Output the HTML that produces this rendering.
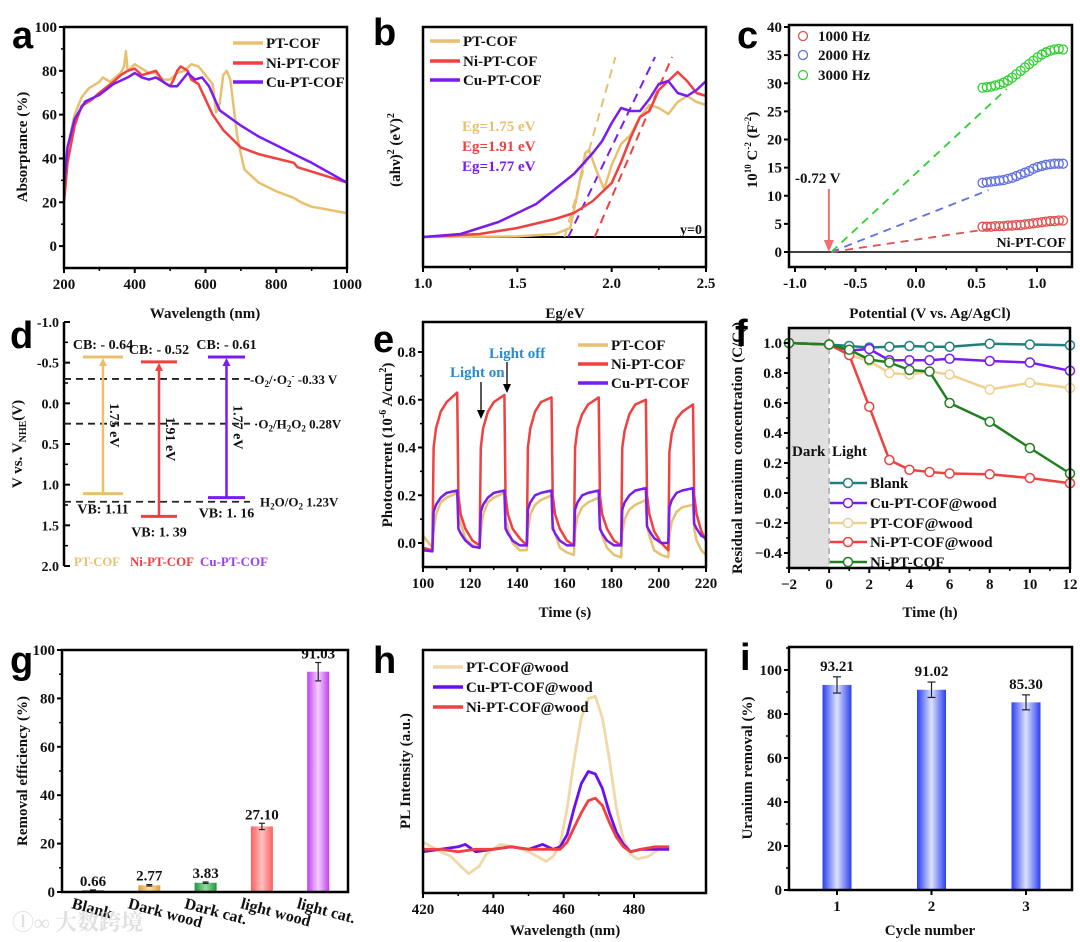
<!DOCTYPE html>
<html><head><meta charset="utf-8">
<style>
html,body{margin:0;padding:0;background:#fff;}
svg{display:block;}
text{font-family:"Liberation Serif","Noto Serif CJK SC",serif;font-weight:bold;}
.pl{font-family:"Liberation Sans",sans-serif;font-weight:bold;font-size:38px;}
</style></head>
<body>
<svg id="fig" width="1080" height="942" viewBox="0 0 1080 942" xmlns="http://www.w3.org/2000/svg">
<defs>
<linearGradient id="gPurple" x1="0" x2="1" y1="0" y2="0"><stop offset="0" stop-color="#c040f0"/><stop offset="0.5" stop-color="#f4d0ff"/><stop offset="1" stop-color="#c040f0"/></linearGradient>
<linearGradient id="gRed" x1="0" x2="1" y1="0" y2="0"><stop offset="0" stop-color="#ff6060"/><stop offset="0.5" stop-color="#ffc0c0"/><stop offset="1" stop-color="#ff6060"/></linearGradient>
<linearGradient id="gGreen" x1="0" x2="1" y1="0" y2="0"><stop offset="0" stop-color="#2a9040"/><stop offset="0.5" stop-color="#90e0a0"/><stop offset="1" stop-color="#2a9040"/></linearGradient>
<linearGradient id="gOrange" x1="0" x2="1" y1="0" y2="0"><stop offset="0" stop-color="#d8a040"/><stop offset="0.5" stop-color="#ffe0a0"/><stop offset="1" stop-color="#d8a040"/></linearGradient>
<linearGradient id="gBlue" x1="0" x2="1" y1="0" y2="0"><stop offset="0" stop-color="#2a40f0"/><stop offset="0.5" stop-color="#dde2ff"/><stop offset="1" stop-color="#2a40f0"/></linearGradient>
</defs>
</svg>
<script>
// ---------- panel a data ----------
const aPT_x=[200,210,230,250,270,300,310,330,360,370,375,380,400,420,440,460,480,500,520,540,560,580,600,620,630,640,650,660,670,690,700,710,750,800,850,870,900,950,1000];
const aPT_y=[22,45,60,68,72,75,77,75,79,82,89,80,83,81,79,79,76,76,79,80,83,82,78,74,61,65,78,80,76,50,42,35,29,25,22,20,18,16.5,15];
const aNi_x=[200,210,230,250,280,300,340,360,380,400,420,440,460,480,500,510,520,530,550,560,580,600,620,650,700,750,800,850,860,900,1000];
const aNi_y=[20,38,55,64,67,70,75,78,80,81,78,79,80,75,73,76,80,82,80,76,74,67,60,53,45,42,40,38,36,34,29];
const aCu_x=[200,210,230,260,300,340,380,400,420,440,460,480,500,520,540,550,570,590,610,640,700,750,800,850,900,1000];
const aCu_y=[28,45,58,66,69,74,77,79,77,76,77,75,73,73,77,79,76,77,73,62,55,50,46,42,38,29];
const aYTicks=[0,20,40,60,80,100];
const aXTicks=[200,400,600,800,1000];
// ---------- panel b data ----------
const bPT_x=[1.0,1.5,1.7,1.78,1.82,1.86,1.88,1.92,1.96,2.0,2.05,2.1,2.15,2.2,2.25,2.3,2.35,2.4,2.45,2.5];
const bPT_y=[0,0.02,0.1,0.3,1.5,2.8,2.9,2.2,1.6,2.4,3.1,3.4,4.0,4.4,4.3,4.1,4.5,4.7,4.5,4.4];
const bNi_x=[1.0,1.3,1.5,1.7,1.8,1.9,2.0,2.05,2.1,2.15,2.2,2.25,2.3,2.35,2.4,2.45,2.5];
const bNi_y=[0,0.1,0.3,0.6,0.8,1.2,1.8,2.5,3.3,4.0,4.2,4.9,5.2,5.5,5.2,4.8,4.7];
const bCu_x=[1.0,1.2,1.4,1.6,1.7,1.8,1.9,1.95,2.0,2.05,2.1,2.15,2.2,2.25,2.3,2.35,2.4,2.45,2.5];
const bCu_y=[0,0.1,0.5,1.1,1.6,2.1,2.8,3.2,3.8,4.3,4.2,4.2,4.6,5.1,5.2,4.8,4.7,4.9,5.2];
const bEg=[1.75,1.91,1.77];
const bFitEnd=[2.02,2.32,2.23];
const bXTicks=[1.0,1.5,2.0,2.5];
// ---------- panel c data ----------
const cV=[0.55,0.585,0.62,0.655,0.69,0.725,0.76,0.795,0.83,0.865,0.90,0.935,0.97,1.005,1.04,1.075,1.11,1.145,1.18,1.215];
const c1000=[4.5,4.5,4.5,4.6,4.6,4.6,4.7,4.7,4.8,4.8,4.9,5.0,5.1,5.2,5.3,5.4,5.5,5.5,5.6,5.6];
const c2000=[12.3,12.4,12.5,12.6,12.7,12.8,13.0,13.2,13.5,13.8,14.1,14.4,14.8,15.1,15.3,15.5,15.6,15.7,15.7,15.7];
const c3000=[29.2,29.3,29.4,29.6,29.8,30.1,30.5,31.0,31.6,32.2,32.8,33.4,34.0,34.6,35.1,35.5,35.8,36.0,36.1,36.0];
const cFitX=[0.70,0.60,0.75];
const cFitY=[4.4,11.0,29.0];
const cYTicks=[0,5,10,15,20,25,30,35,40];
const cXTicks=[-1.0,-0.5,0.0,0.5,1.0];
// ---------- panel d data ----------
const dNames=["PT-COF","Ni-PT-COF","Cu-PT-COF"];
const dCB=[-0.57,-0.51,-0.57];
const dCBlabel=["CB: - 0.64","CB: - 0.52","CB: - 0.61"];
const dVB=[1.11,1.39,1.16];
const dVBlabel=["VB: 1.11","VB: 1. 39","VB: 1. 16"];
const dGap=["1.75 eV","1.91 eV","1.77 eV"];
const dRef=[-0.30,0.25,1.21];
const dYTicks=[-1.0,-0.5,0.0,0.5,1.0,1.5,2.0];
// ---------- panel e data ----------
const eT=[100,104,104.5,105.5,107.5,110,114.5,115,116,118,121,124,124.5,125.5,127.5,130,134.5,135,136,138,141,144,144.5,145.5,147.5,150,154.5,155,156,158,161,164,164.5,165.5,167.5,170,174.5,175,176,178,181,184,184.5,185.5,187.5,190,194.5,195,196,198,201,204,204.5,205.5,207.5,210,214.5,215,216,218,220];
const eNi=[-0.02,-0.03,0.40,0.48,0.55,0.59,0.63,0.20,0.12,0.06,0.01,-0.01,0.40,0.48,0.55,0.59,0.62,0.20,0.12,0.06,0.02,-0.01,0.40,0.48,0.55,0.59,0.61,0.20,0.12,0.06,0.01,-0.01,0.40,0.48,0.54,0.58,0.61,0.20,0.12,0.06,0.01,-0.01,0.40,0.47,0.54,0.58,0.60,0.20,0.12,0.05,0.0,-0.03,0.38,0.46,0.52,0.55,0.58,0.20,0.12,0.05,0.01];
const eCu=[-0.03,-0.035,0.13,0.16,0.19,0.21,0.22,0.06,0.04,0.01,-0.015,-0.02,0.13,0.16,0.19,0.21,0.22,0.06,0.04,0.01,-0.01,-0.01,0.14,0.17,0.20,0.21,0.22,0.06,0.04,0.01,-0.01,-0.01,0.14,0.17,0.20,0.21,0.22,0.06,0.04,0.01,-0.01,-0.01,0.14,0.17,0.20,0.22,0.23,0.07,0.05,0.02,0.0,0.0,0.15,0.18,0.21,0.22,0.23,0.08,0.06,0.03,0.02];
const ePT=[0.03,-0.02,0.05,0.12,0.17,0.19,0.21,0.12,0.08,0.02,-0.01,-0.02,0.05,0.12,0.17,0.19,0.21,0.10,0.06,0.0,-0.03,-0.03,0.05,0.12,0.16,0.18,0.20,0.08,0.04,-0.02,-0.04,-0.05,0.05,0.11,0.15,0.17,0.19,0.08,0.03,-0.02,-0.05,-0.06,0.04,0.10,0.14,0.16,0.18,0.07,0.03,-0.03,-0.05,-0.06,0.03,0.09,0.13,0.15,0.16,0.06,0.01,-0.03,-0.05];
const eYTicks=[0.0,0.2,0.4,0.6,0.8];
const eXTicks=[100,120,140,160,180,200,220];
// ---------- panel f data ----------
const fT=[-2,0,1,2,3,4,5,6,8,10,12];
const fBlank=[1.0,0.99,0.98,0.97,0.975,0.98,0.975,0.975,0.995,0.99,0.985];
const fCu=[1.0,0.99,0.95,0.96,0.885,0.885,0.885,0.895,0.88,0.87,0.815];
const fPT=[1.0,0.99,0.92,0.88,0.80,0.79,0.81,0.79,0.69,0.735,0.70];
const fNiW=[1.0,0.99,0.92,0.575,0.22,0.155,0.14,0.13,0.125,0.10,0.065];
const fNi=[1.0,0.99,0.955,0.89,0.87,0.82,0.81,0.60,0.475,0.30,0.13];
const fYTicks=[-0.4,-0.2,0.0,0.2,0.4,0.6,0.8,1.0];
const fXTicks=[-2,0,2,4,6,8,10,12];
// ---------- panel g data ----------
const gCats=["Blank","Dark wood","Dark cat.","light wood","light cat."];
const gVals=[0.66,2.77,3.83,27.10,91.03];
const gErr=[0.2,0.3,0.3,1.3,3.8];
const gLabels=["0.66","2.77","3.83","27.10","91.03"];
const gYTicks=[0,20,40,60,80,100];
// ---------- panel h data ----------
const hPT_x=[420,425,428,430,433,436,438,442,446,450,455,457,459,461,463,465,467,469,471,473,475,477,479,481,484,487,490];
const hPT_y=[21,17,15,12,8,11,16,20,19,17,13,15,20,35,55,72,80,81,72,55,35,22,16,14,15,18,19];
const hCu_x=[420,425,430,432,435,440,445,450,454,457,459,461,463,465,467,469,471,473,475,477,479,482,486,490];
const hCu_y=[17,18,19,20,17,18,19,18,20,18,19,24,35,45,50,49,43,33,25,20,17,18,18,18];
const hNi_x=[420,425,430,435,440,445,450,455,459,461,463,465,467,469,471,473,475,477,479,482,486,490];
const hNi_y=[18,18,17,18,18,19,18,18,18,21,27,33,38,39,36,29,23,19,17,18,19,19];
const hXTicks=[420,440,460,480];
// ---------- panel i data ----------
const iCats=["1","2","3"];
const iVals=[93.21,91.02,85.30];
const iErr=[3.7,3.5,3.4];
const iLabels=["93.21","91.02","85.30"];
const iYTicks=[0,20,40,60,80,100];

const NS="http://www.w3.org/2000/svg";
const svg=document.getElementById('fig');
const TF=15, LF=15;
function mk(parent,tag,attrs,name){
  const el=document.createElementNS(NS,tag);
  for(const k in attrs) el.setAttribute(k,attrs[k]);
  
  
  parent.appendChild(el);
  return el;
}
function txt(parent,x,y,s,attrs,name){
  const a=Object.assign({x:x,y:y,'font-size':14,fill:'#111'},attrs||{});
  const el=mk(parent,'text',a,name);
  el.textContent=s;
  return el;
}
function lin(d0,d1,r0,r1){return v=>r0+(v-d0)*(r1-r0)/(d1-d0);}
function grp(name){return mk(svg,'g',{},name);}
function line(g,x1,y1,x2,y2,st,name,extra){return mk(g,'line',Object.assign({x1:x1,y1:y1,x2:x2,y2:y2,stroke:st||'#000','stroke-width':1.5},extra||{}),name);}
function poly(g,xs,ys,X,Y,color,w,name,extra){
  const pts=xs.map((v,i)=>X(v).toFixed(1)+','+Y(ys[i]).toFixed(1)).join(' ');
  return mk(g,'polyline',Object.assign({points:pts,fill:'none',stroke:color,'stroke-width':w||2.5,'stroke-linejoin':'round'},extra||{}),name);
}
function frame(g,x0,y0,x1,y1){mk(g,'rect',{x:x0,y:y0,width:x1-x0,height:y1-y0,fill:'none',stroke:'#000','stroke-width':2.5},'plot-frame');}
function xAxis(g,ticks,X,yb,fmt,minor,name){
  ticks.forEach(t=>{line(g,X(t),yb,X(t),yb+5,'#000',name+'-tick',{'stroke-width':2});
    txt(g,X(t),yb+21,fmt(t),{'text-anchor':'middle','font-size':TF},name+'-label');});
  (minor||[]).forEach(t=>line(g,X(t),yb,X(t),yb+3,'#000',name+'-minor-tick',{'stroke-width':1.5}));
}
function yAxis(g,ticks,Y,xl,fmt,minor,name){
  ticks.forEach(t=>{line(g,xl-5,Y(t),xl,Y(t),'#000',name+'-tick',{'stroke-width':2});
    txt(g,xl-7,Y(t)+5,fmt(t),{'text-anchor':'end','font-size':TF},name+'-label');});
  (minor||[]).forEach(t=>line(g,xl-3,Y(t),xl,Y(t),'#000',name+'-minor-tick',{'stroke-width':1.5}));
}
function ytitle(g,x,y,s,name,fs){
  const t=txt(g,x,y,'',{'text-anchor':'middle','font-size':fs||14,transform:'rotate(-90 '+x+' '+y+')'},name);
  return t;
}
function letter(x,y,s){txt(svg,x,y,s,{'class':'pl','font-size':38,fill:'#000'},'panel-label-'+s);}
function legendLine(g,x,y,color,label,name){line(g,x,y,x+30,y,color,name+'-swatch',{'stroke-width':3.5});txt(g,x+33,y+5,label,{'font-size':LF},name+'-text');}
const cPT='#e8c070',cNi='#f04040',cCu='#7a1cf0';

// ===== Panel a =====
(function(){
  const g=grp('panel-a-absorptance');
  const X=lin(200,1000,64,347),Y=lin(-10,100,268,27);
  poly(g,aPT_x,aPT_y,X,Y,cPT,2.5,'line-pt-cof');
  poly(g,aNi_x,aNi_y,X,Y,cNi,2.5,'line-ni-pt-cof');
  poly(g,aCu_x,aCu_y,X,Y,cCu,2.5,'line-cu-pt-cof');
  frame(g,64,27,347,268);
  xAxis(g,aXTicks,X,268,v=>v,[300,500,700,900],'x-axis');
  yAxis(g,aYTicks,Y,64,v=>v,[10,30,50,70,90],'y-axis');
  txt(g,205,318,'Wavelength (nm)',{'text-anchor':'middle','font-size':15},'x-axis-title');
  const t=ytitle(g,27,147,'','y-axis-title',15);t.textContent='Absorptance (%)';
  legendLine(g,233,43,cPT,'PT-COF','legend-pt-cof');
  legendLine(g,233,63,cNi,'Ni-PT-COF','legend-ni-pt-cof');
  legendLine(g,233,82,cCu,'Cu-PT-COF','legend-cu-pt-cof');
})();
letter(12,48,'a');

// ===== Panel b =====
(function(){
  const g=grp('panel-b-tauc');
  const X=lin(1.0,2.5,423,706),Y=lin(0,1,237,207);
  line(g,423,Y(0),706,Y(0),'#000','zero-line',{'stroke-width':2});
  const cols=[cPT,cNi,cCu];
  bEg.forEach((e,i)=>line(g,X(e),Y(0),X(bFitEnd[i]),Y(6.0),cols[i],'fit-line-'+i,{'stroke-width':2,'stroke-dasharray':'9,6'}));
  poly(g,bPT_x,bPT_y,X,Y,cPT,2.5,'line-pt-cof');
  poly(g,bNi_x,bNi_y,X,Y,cNi,2.5,'line-ni-pt-cof');
  poly(g,bCu_x,bCu_y,X,Y,cCu,2.5,'line-cu-pt-cof');
  frame(g,423,27,706,267);
  xAxis(g,bXTicks,X,267,v=>v.toFixed(1),[1.25,1.75,2.25],'x-axis');
  txt(g,565,318,'Eg/eV',{'text-anchor':'middle','font-size':15},'x-axis-title');
  const t=ytitle(g,400,150,'','y-axis-title',15);
  t.innerHTML='(ahν)<tspan font-size="10" dy="-6">2</tspan><tspan dy="6"> (eV)</tspan><tspan font-size="10" dy="-6">2</tspan>';
  legendLine(g,430,41,cPT,'PT-COF','legend-pt-cof');
  legendLine(g,430,61,cNi,'Ni-PT-COF','legend-ni-pt-cof');
  legendLine(g,430,80,cCu,'Cu-PT-COF','legend-cu-pt-cof');
  txt(g,462,131,'Eg=1.75 eV',{fill:cPT,'font-size':15},'eg-label-pt');
  txt(g,462,151,'Eg=1.91 eV',{fill:cNi,'font-size':15},'eg-label-ni');
  txt(g,462,171,'Eg=1.77 eV',{fill:cCu,'font-size':15},'eg-label-cu');
  txt(g,702,234,'y=0',{'text-anchor':'end','font-size':14},'y0-label');
})();
letter(373,45,'b');

// ===== Panel c =====
(function(){
  const g=grp('panel-c-mott-schottky');
  const X=lin(-1,1,795,1037),Y=lin(0,40,252,27);
  line(g,789,Y(0),1072,Y(0),'#000','zero-line',{'stroke-width':1.5});
  const sets=[[c1000,'#e05050','1000'],[c2000,'#6070e0','2000'],[c3000,'#30d030','3000']];
  sets.forEach((s,k)=>{
    line(g,X(-0.7),Y(0),X(cFitX[k]),Y(cFitY[k]),s[1],'fit-line-'+s[2],{'stroke-width':1.8,'stroke-dasharray':'8,6'});
    s[0].forEach((v,i)=>mk(g,'circle',{cx:X(cV[i]),cy:Y(v),r:4.5,fill:'none',stroke:s[1],'stroke-width':1.3},'point-'+s[2]+'hz'));
  });
  frame(g,789,25,1072,267);
  xAxis(g,cXTicks,X,267,v=>v.toFixed(1),[-0.75,-0.25,0.25,0.75],'x-axis');
  yAxis(g,cYTicks,Y,789,v=>v,[],'y-axis');
  txt(g,930,318,'Potential (V vs. Ag/AgCl)',{'text-anchor':'middle','font-size':15},'x-axis-title');
  const t=ytitle(g,757,150,'','y-axis-title',15);
  t.innerHTML='10<tspan font-size="9" dy="-6">10</tspan><tspan dy="6"> C</tspan><tspan font-size="9" dy="-6">-2</tspan><tspan dy="6"> (F</tspan><tspan font-size="9" dy="-6">-2</tspan><tspan dy="6">)</tspan>';
  line(g,X(-0.72),189,X(-0.72),245,'#f07070','arrow-shaft',{'stroke-width':2});
  mk(g,'polygon',{points:(X(-0.72)-5)+',240 '+(X(-0.72)+5)+',240 '+X(-0.72)+',252',fill:'#f07070'},'arrow-head');
  txt(g,795,183,'-0.72 V',{'font-size':15},'flatband-label');
  txt(g,1066,247,'Ni-PT-COF',{'text-anchor':'end','font-size':14},'sample-label');
  [['1000 Hz','#e05050',36],['2000 Hz','#6070e0',55],['3000 Hz','#30d030',75]].forEach(l=>{
    mk(g,'circle',{cx:803,cy:l[2],r:4.5,fill:'none',stroke:l[1],'stroke-width':1.3},'legend-marker');
    txt(g,818,l[2]+5,l[0],{'font-size':LF},'legend-text');
  });
})();
letter(737,48,'c');

// ===== Panel d =====
(function(){
  const g=grp('panel-d-band-structure');
  const Y=lin(-1,2,322,566);
  line(g,64,322,64,566,'#000','y-axis-line',{'stroke-width':2.5});
  dYTicks.forEach(t=>{line(g,64,Y(t),70,Y(t),'#000','y-tick',{'stroke-width':2});
    txt(g,59,Y(t)+5,t.toFixed(1),{'text-anchor':'end','font-size':14},'y-tick-label');});
  [-0.75,-0.25,0.25,0.75,1.25,1.75].forEach(t=>line(g,64,Y(t),68,Y(t),'#000','y-minor-tick',{'stroke-width':1.5}));
  dRef.forEach(r=>line(g,64,Y(r),250,Y(r),'#222','reference-line',{'stroke-width':1.8,'stroke-dasharray':'7,5'}));
  const t1=txt(g,250,Y(dRef[0])+5,'',{'font-size':13},'ref-label-o2');t1.innerHTML='-O<tspan font-size="9" dy="3">2</tspan><tspan dy="-3">/·O</tspan><tspan font-size="9" dy="3">2</tspan><tspan font-size="9" dy="-8">-</tspan><tspan dy="5"> -0.33 V</tspan>';
  const t2=txt(g,254,Y(dRef[1])+5,'',{'font-size':13},'ref-label-h2o2');t2.innerHTML='·O<tspan font-size="9" dy="3">2</tspan><tspan dy="-3">/H</tspan><tspan font-size="9" dy="3">2</tspan><tspan dy="-3">O</tspan><tspan font-size="9" dy="3">2</tspan><tspan dy="-3"> 0.28V</tspan>';
  const t3=txt(g,260,Y(dRef[2])+5,'',{'font-size':13},'ref-label-h2o');t3.innerHTML='H<tspan font-size="9" dy="3">2</tspan><tspan dy="-3">O/O</tspan><tspan font-size="9" dy="3">2</tspan><tspan dy="-3">  1.23V</tspan>';
  const cols=[cPT,cNi,cCu];const xs=[[83,123],[141,177],[208,245]];
  dNames.forEach((n,i)=>{
    const c=cols[i],x0=xs[i][0],x1=xs[i][1],xm=(x0+x1)/2;
    line(g,x0,Y(dCB[i]),x1,Y(dCB[i]),c,'cb-level-'+i,{'stroke-width':3});
    line(g,x0,Y(dVB[i]),x1,Y(dVB[i]),c,'vb-level-'+i,{'stroke-width':3});
    line(g,xm,Y(dVB[i]),xm,Y(dCB[i])+6,c,'gap-arrow-'+i,{'stroke-width':2.5});
    mk(g,'polygon',{points:(xm-4)+','+(Y(dCB[i])+9)+' '+(xm+4)+','+(Y(dCB[i])+9)+' '+xm+','+(Y(dCB[i])+1),fill:c},'gap-arrowhead-'+i);
    txt(g,xm,Y(dCB[i])-8,dCBlabel[i],{'text-anchor':'middle','font-size':14},'cb-label-'+i);
    txt(g,xm,Y(dVB[i])+20,dVBlabel[i],{'text-anchor':'middle','font-size':14},'vb-label-'+i);
    const gx=xm+7,gy=Y((dCB[i]+dVB[i])/2);
    txt(g,gx,gy,dGap[i],{'text-anchor':'middle','font-size':14,transform:'rotate(90 '+gx+' '+gy+')'},'gap-label-'+i);
  });
  txt(g,74,566,'PT-COF',{fill:cPT,'font-size':13,textLength:46,lengthAdjust:'spacingAndGlyphs'},'legend-pt-cof');
  txt(g,130,566,'Ni-PT-COF',{fill:cNi,'font-size':13,textLength:64,lengthAdjust:'spacingAndGlyphs'},'legend-ni-pt-cof');
  txt(g,200,566,'Cu-PT-COF',{fill:'#9a40f0','font-size':13,textLength:68,lengthAdjust:'spacingAndGlyphs'},'legend-cu-pt-cof');
  const t=ytitle(g,22,444,'','y-axis-title',15);
  t.innerHTML='V vs. V<tspan font-size="10" dy="4">NHE</tspan><tspan dy="-4">(V)</tspan>';
})();
letter(10,348,'d');

// ===== Panel e =====
(function(){
  const g=grp('panel-e-photocurrent');
  const X=lin(100,220,423,706),Y=lin(0,0.8,543,352);
  poly(g,eT,ePT,X,Y,cPT,2.5,'line-pt-cof');
  poly(g,eT,eNi,X,Y,cNi,2.5,'line-ni-pt-cof');
  poly(g,eT,eCu,X,Y,cCu,2.5,'line-cu-pt-cof');
  frame(g,423,322,706,567);
  xAxis(g,eXTicks,X,567,v=>v,[110,130,150,170,190,210],'x-axis');
  yAxis(g,eYTicks,Y,423,v=>v.toFixed(1),[0.1,0.3,0.5,0.7],'y-axis');
  txt(g,565,617,'Time (s)',{'text-anchor':'middle','font-size':15},'x-axis-title');
  const t=ytitle(g,392,445,'','y-axis-title',15);
  t.innerHTML='Photocurrent (10<tspan font-size="10" dy="-6">-6</tspan><tspan dy="6"> A/cm</tspan><tspan font-size="10" dy="-6">2</tspan><tspan dy="6">)</tspan>';
  legendLine(g,578,345,cPT,'PT-COF','legend-pt-cof');
  legendLine(g,578,364,cNi,'Ni-PT-COF','legend-ni-pt-cof');
  legendLine(g,578,383,cCu,'Cu-PT-COF','legend-cu-pt-cof');
  txt(g,450,377,'Light on',{fill:'#2a8ad0','font-size':15},'light-on-label');
  txt(g,489,358,'Light off',{fill:'#2a8ad0','font-size':15},'light-off-label');
  line(g,481,382,481,412,'#000','light-on-arrow',{'stroke-width':1.3});
  mk(g,'polygon',{points:'477,410 485,410 481,419',fill:'#000'},'light-on-arrowhead');
  line(g,507,362,507,386,'#000','light-off-arrow',{'stroke-width':1.3});
  mk(g,'polygon',{points:'503,384 511,384 507,393',fill:'#000'},'light-off-arrowhead');
})();
letter(373,352,'e');

// ===== Panel f =====
(function(){
  const g=grp('panel-f-uranium');
  const X=lin(-2,12,789,1070),Y=lin(0,1,493,343);
  mk(g,'rect',{x:X(-2),y:328,width:X(0)-X(-2),height:240,fill:'#e0e0e0'},'dark-region');
  line(g,X(0),328,X(0),568,'#aaa','dark-light-divider',{'stroke-width':1.5,'stroke-dasharray':'6,4'});
  const S=[[fBlank,'#208080','blank'],[fCu,'#7a1cf0','cu-pt-cof-wood'],[fPT,'#f0d090','pt-cof-wood'],[fNiW,'#f04040','ni-pt-cof-wood'],[fNi,'#208020','ni-pt-cof']];
  S.forEach(s=>{poly(g,fT,s[0],X,Y,s[1],2.5,'line-'+s[2]);
    s[0].forEach((v,i)=>mk(g,'circle',{cx:X(fT[i]),cy:Y(v),r:4.5,fill:'#fff',stroke:s[1],'stroke-width':1.5},'point-'+s[2]));});
  frame(g,789,328,1070,568);
  xAxis(g,fXTicks,X,568,v=>v<0?'\u2212'+(-v):v,[-1,1,3,5,7,9,11],'x-axis');
  yAxis(g,fYTicks,Y,789,v=>v<0?'\u2212'+(-v).toFixed(1):v.toFixed(1),[-0.5,-0.3,-0.1,0.1,0.3,0.5,0.7,0.9],'y-axis');
  txt(g,930,617,'Time (h)',{'text-anchor':'middle','font-size':15},'x-axis-title');
  const t=ytitle(g,742,448,'','y-axis-title',15);
  t.innerHTML='Residual uranium concentration (C/C<tspan font-size="10" dy="4">0</tspan><tspan dy="-4">)</tspan>';
  txt(g,792,456,'Dark',{'font-size':15},'dark-label');
  txt(g,832,456,'Light',{'font-size':15},'light-label');
  const L=[['Blank','#208080',483],['Cu-PT-COF@wood','#7a1cf0',503],['PT-COF@wood','#f0d090',523],['Ni-PT-COF@wood','#f04040',542],['Ni-PT-COF','#208020',562]];
  L.forEach(l=>{line(g,830,l[2],867,l[2],l[1],'legend-swatch',{'stroke-width':2.5});
    mk(g,'circle',{cx:848,cy:l[2],r:4.5,fill:'#fff',stroke:l[1],'stroke-width':1.5},'legend-marker');
    txt(g,870,l[2]+5,l[0],{'font-size':LF},'legend-text');});
})();
letter(735,346,'f');

// ===== Panel g =====
(function(){
  const g=grp('panel-g-removal-efficiency');
  const X0=93,step=56.3,bw=22;
  const Y=lin(0,100,892,650);
  const fills=['#333','url(#gOrange)','url(#gGreen)','url(#gRed)','url(#gPurple)'];
  gVals.forEach((v,i)=>{
    const cx=X0+i*step;
    mk(g,'rect',{x:cx-bw/2,y:Y(v),width:bw,height:Y(0)-Y(v),fill:fills[i]},'bar-'+gCats[i].replace(/[ .]/g,'-').toLowerCase());
    line(g,cx,Y(v+gErr[i]),cx,Y(v-gErr[i]),'#222','error-bar',{'stroke-width':1.2});
    line(g,cx-3,Y(v+gErr[i]),cx+3,Y(v+gErr[i]),'#222','error-cap',{'stroke-width':1.2});
    line(g,cx-3,Y(v-gErr[i]),cx+3,Y(v-gErr[i]),'#222','error-cap',{'stroke-width':1.2});
    txt(g,cx,Y(v+gErr[i])-4,gLabels[i],{'text-anchor':'middle','font-size':15},'value-label');
    const lx=cx-22,ly=908;
    txt(g,lx,ly,gCats[i],{'font-size':16,transform:'rotate(15 '+lx+' '+ly+')'},'category-label');
  });
  frame(g,62,650,348,892);
  yAxis(g,gYTicks,Y,62,v=>v,[10,30,50,70,90],'y-axis');
  const t=ytitle(g,27,771,'','y-axis-title',15);t.textContent='Removal efficiency (%)';
  txt(g,12,930,'\u24DB\u221E 大数跨境',{'font-size':22,fill:'#d8d8d8',opacity:0.8,'font-family':'"Liberation Sans","Noto Sans CJK SC",sans-serif'},'watermark');
})();
letter(10,673,'g');

// ===== Panel h =====
(function(){
  const g=grp('panel-h-pl');
  const X=lin(420,480,423,634),Y=lin(0,100,893,650);
  poly(g,hPT_x,hPT_y,X,Y,'#f0d8a8',2.8,'line-pt-cof-wood');
  poly(g,hCu_x,hCu_y,X,Y,'#6a10f0',2.8,'line-cu-pt-cof-wood');
  poly(g,hNi_x,hNi_y,X,Y,'#f04040',2.8,'line-ni-pt-cof-wood');
  frame(g,423,650,706,893);
  xAxis(g,hXTicks,X,893,v=>v,[430,450,470],'x-axis');
  txt(g,565,935,'Wavelength (nm)',{'text-anchor':'middle','font-size':15},'x-axis-title');
  const t=ytitle(g,410,771,'','y-axis-title',15);t.textContent='PL Intensity (a.u.)';
  legendLine(g,433,667,'#f0d8a8','PT-COF@wood','legend-pt-cof-wood');
  legendLine(g,433,687,'#6a10f0','Cu-PT-COF@wood','legend-cu-pt-cof-wood');
  legendLine(g,433,707,'#f04040','Ni-PT-COF@wood','legend-ni-pt-cof-wood');
})();
letter(373,673,'h');

// ===== Panel i =====
(function(){
  const g=grp('panel-i-cycles');
  const X=lin(1,3,837,1026),Y=lin(0,100,890,670),bw=29;
  iVals.forEach((v,i)=>{
    const cx=X(i+1);
    mk(g,'rect',{x:cx-bw/2,y:Y(v),width:bw,height:Y(0)-Y(v),fill:'url(#gBlue)'},'bar-cycle-'+iCats[i]);
    line(g,cx,Y(v+iErr[i]),cx,Y(v-iErr[i]),'#222','error-bar',{'stroke-width':1.2});
    line(g,cx-4,Y(v+iErr[i]),cx+4,Y(v+iErr[i]),'#222','error-cap',{'stroke-width':1.2});
    line(g,cx-4,Y(v-iErr[i]),cx+4,Y(v-iErr[i]),'#222','error-cap',{'stroke-width':1.2});
    txt(g,cx,Y(v+iErr[i])-6,iLabels[i],{'text-anchor':'middle','font-size':15},'value-label');
  });
  frame(g,789,647,1072,890);
  xAxis(g,[1,2,3],X,890,v=>iCats[v-1],[],'x-axis');
  yAxis(g,iYTicks,Y,789,v=>v,[10,30,50,70,90,110],'y-axis');
  txt(g,930,935,'Cycle number',{'text-anchor':'middle','font-size':15},'x-axis-title');
  const t=ytitle(g,752,768,'','y-axis-title',15);t.textContent='Uranium removal (%)';
})();
letter(740,670,'i');
</script>
</body></html>
